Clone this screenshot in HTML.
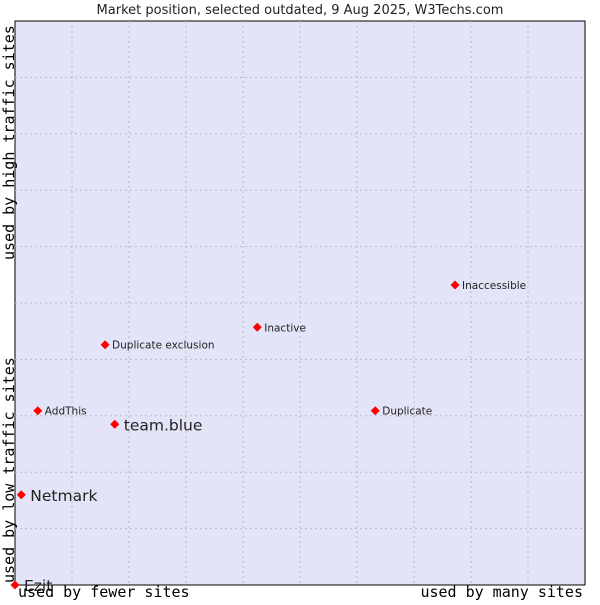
<!DOCTYPE html>
<html><head><meta charset="utf-8"><style>
body{margin:0;background:#fff;}
svg text{font-family:"DejaVu Sans","Liberation Sans",sans-serif;}
</style></head><body>
<svg id="chart" width="600" height="600" xmlns="http://www.w3.org/2000/svg">
<text x="300" y="14" font-size="13" text-anchor="middle" fill="#222">Market position, selected outdated, 9 Aug 2025, W3Techs.com</text>
<rect x="15" y="21" width="570" height="564" fill="#e4e4f8" stroke="#000" stroke-width="1"/>
<g id="grid"></g>
<g id="points"></g>
<text x="18" y="597" font-size="15" style="font-family:'DejaVu Sans Mono','Liberation Mono',monospace">used by fewer sites</text>
<text x="583" y="597" font-size="15" text-anchor="end" style="font-family:'DejaVu Sans Mono','Liberation Mono',monospace">used by many sites</text>
<text transform="translate(14,583) rotate(-90)" font-size="15" style="font-family:'DejaVu Sans Mono','Liberation Mono',monospace">used by low traffic sites</text>
<text transform="translate(14,260) rotate(-90)" font-size="15" style="font-family:'DejaVu Sans Mono','Liberation Mono',monospace">used by high traffic sites</text>
</svg>
<script>
const names=["Ezit","Netmark","team.blue","AddThis","Duplicate exclusion","Inactive","Duplicate","Inaccessible"];
const xValues=[0,1.1,17.5,4.0,15.8,42.5,63.2,77.2];
const yValues=[0,16.0,28.5,30.9,42.6,45.7,30.9,53.2];
const bigLabels=[true,true,true,false,false,false,false,false];
const L=15,R=585,T=21,B=585;
const xs=v=>L+v/100*(R-L);
const ys=v=>B-v/100*(B-T);
const NS="http://www.w3.org/2000/svg";
const grid=document.getElementById('grid');
for(let i=1;i<10;i++){
  const lx=document.createElementNS(NS,'line');
  
  
  lx.setAttribute('x1',xs(i*10));lx.setAttribute('x2',xs(i*10));lx.setAttribute('y1',T);lx.setAttribute('y2',B);
  lx.setAttribute('stroke','#bbb');lx.setAttribute('stroke-dasharray','2,3');grid.appendChild(lx);
  const ly=document.createElementNS(NS,'line');
  
  
  ly.setAttribute('y1',ys(i*10));ly.setAttribute('y2',ys(i*10));ly.setAttribute('x1',L);ly.setAttribute('x2',R);
  ly.setAttribute('stroke','#bbb');ly.setAttribute('stroke-dasharray','2,3');grid.appendChild(ly);
}
const pts=document.getElementById('points');
names.forEach((n,i)=>{
  const x=xs(xValues[i]),y=ys(yValues[i]);
  const c=document.createElementNS(NS,'path');
  
  
  c.setAttribute('d',`M${x} ${y-4.5}L${x+4.5} ${y}L${x} ${y+4.5}L${x-4.5} ${y}Z`);
  c.setAttribute('fill','#f00');pts.appendChild(c);
  const t=document.createElementNS(NS,'text');
  
  
  const big=bigLabels[i];
  t.setAttribute('x',x+(big?9:7));t.setAttribute('y',y+(big?6:4));
  t.setAttribute('font-size',big?15.5:10.5);t.setAttribute('fill','#222');
  t.textContent=n;pts.appendChild(t);
});
</script>
</body></html>
